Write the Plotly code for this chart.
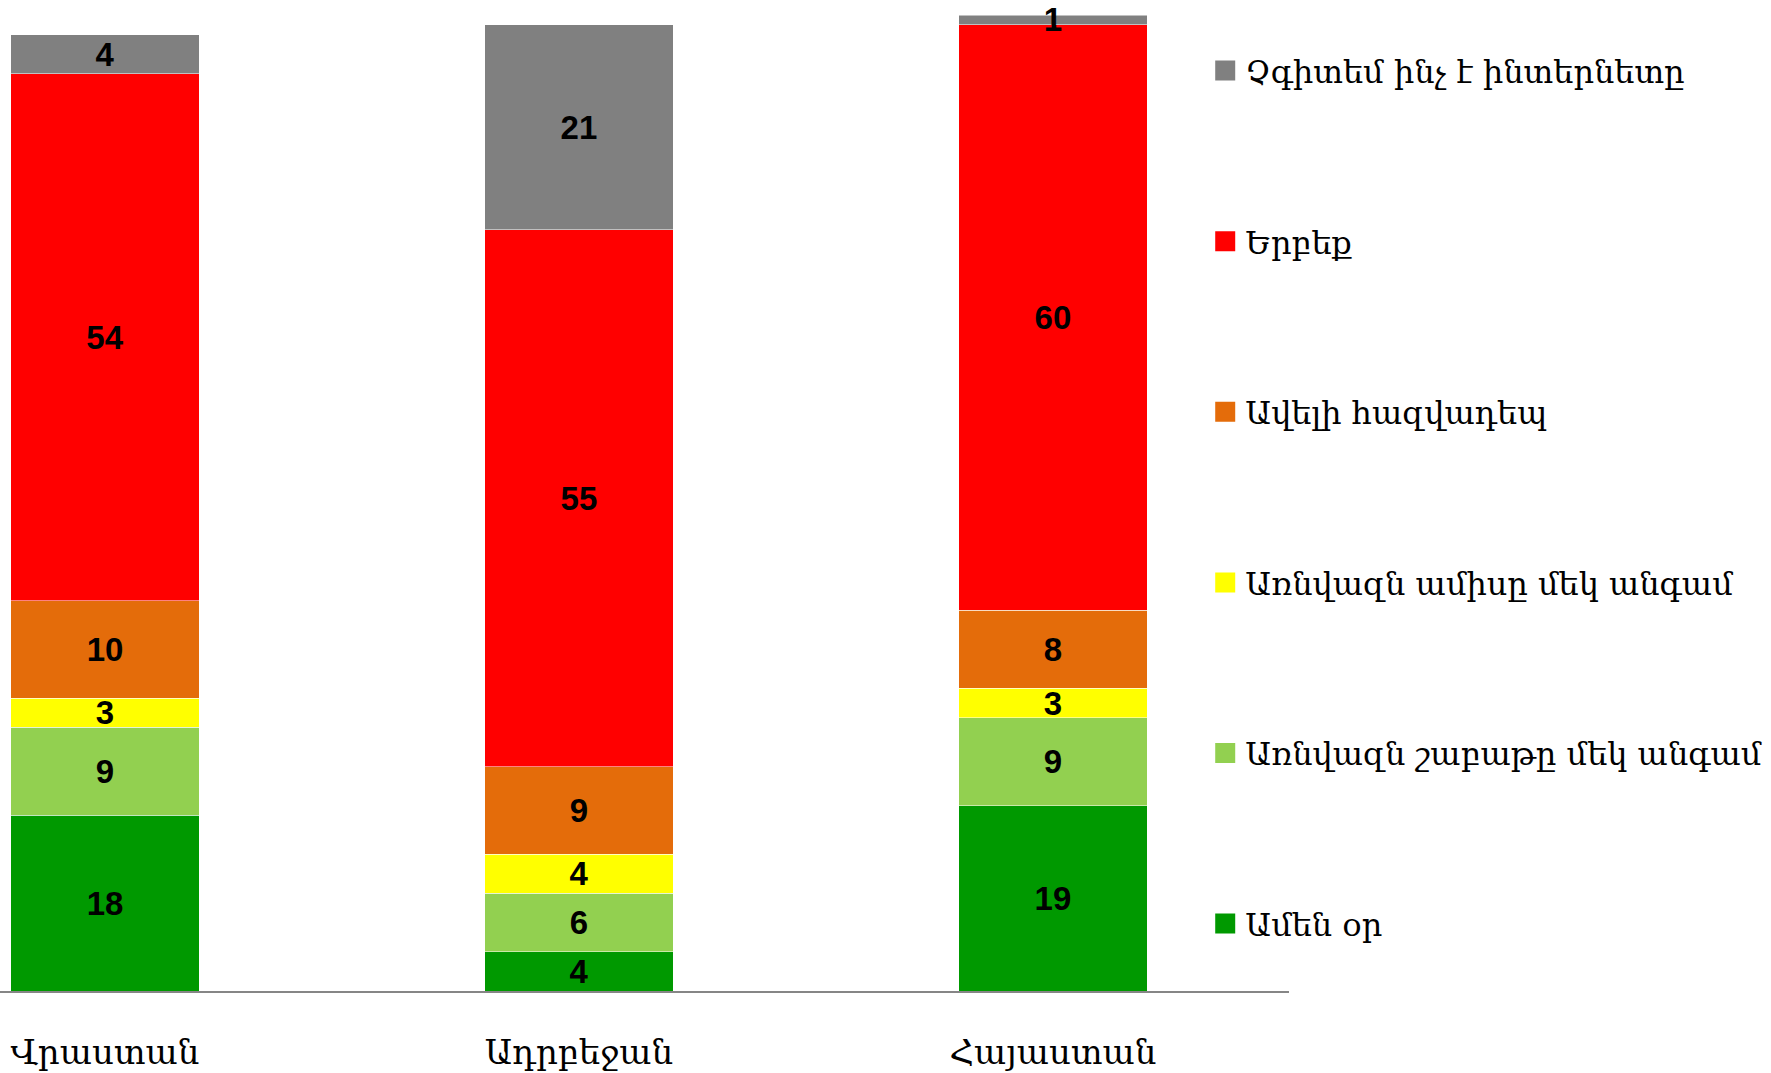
import plotly.graph_objects as go

categories = ["Վրաստան", "Ադրբեջան", "Հայաստան"]
series_names = [
    "Ամեն օր",
    "Առնվազն շաբաթը մեկ անգամ",
    "Առնվազն ամիսը մեկ անգամ",
    "Ավելի հազվադեպ",
    "Երբեք",
    "Չգիտեմ ինչ է ինտերնետը",
]
every_day = [18, 4, 19]
weekly = [9, 6, 9]
monthly = [3, 4, 3]
rarely = [10, 9, 8]
never = [54, 55, 60]
dont_know = [4, 21, 1]
series_values = [every_day, weekly, monthly, rarely, never, dont_know]
colors = ["#009900", "#92D050", "#FFFF00", "#E46C0A", "#FF0000", "#808080"]

fig = go.Figure()
for name, vals, col in zip(series_names, series_values, colors):
    fig.add_trace(go.Bar(
        x=categories, y=vals, name=name, showlegend=False,
        marker=dict(color=col, line=dict(color="rgba(255,255,255,0.5)", width=1)),
        width=0.397,
        text=[str(v) for v in vals], textposition="inside", insidetextanchor="middle",
        constraintext="none", cliponaxis=False,
        textfont=dict(family="Liberation Sans, Arial", size=33, color="black", weight="bold"),
        textangle=0,
        hoverinfo="skip",
    ))

# legend entries (top to bottom: reverse of stacking order)
for name, col in reversed(list(zip(series_names, colors))):
    fig.add_trace(go.Scatter(
        x=[None], y=[None], mode="markers", name=name, legendgroup=name,
        marker=dict(symbol="square", size=16, color=col, line=dict(color=col, width=4)),
    ))

fig.update_layout(
    width=1771, height=1073,
    barmode="stack",
    paper_bgcolor="white", plot_bgcolor="white",
    margin=dict(l=0, r=482, t=15, b=82),
    xaxis=dict(range=[-0.2215, 2.498], showline=True, linecolor="#868686", linewidth=2,
               ticks="", showgrid=False, ticklabelstandoff=30, automargin=False,
               tickfont=dict(family="DejaVu Serif", size=34, color="black")),
    yaxis=dict(range=[0, 100], visible=False, showgrid=False, automargin=False),
    legend=dict(x=0.935, xanchor="left", y=0.971, yanchor="top",
                traceorder="grouped", tracegroupgap=126,
                font=dict(family="DejaVu Serif", size=32, color="black")),
    showlegend=True,
)

fig.write_html("out.html", config={"displayModeBar": False},
               post_script="document.body.style.margin='0';")
